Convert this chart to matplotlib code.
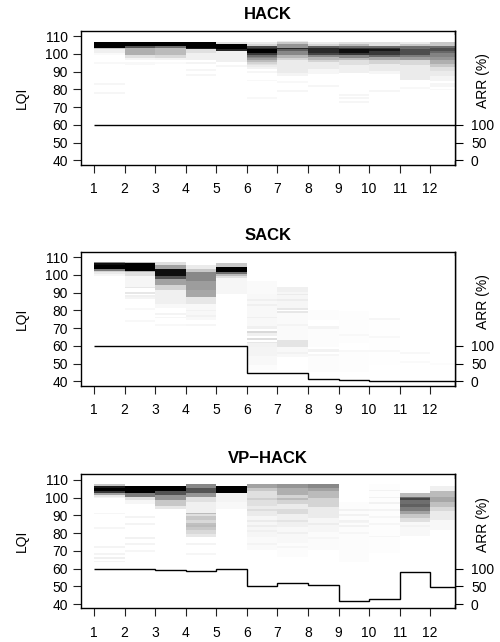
import numpy as np
import matplotlib
matplotlib.use('Agg')
import matplotlib.pyplot as plt
from matplotlib.colors import LinearSegmentedColormap, PowerNorm
from matplotlib.transforms import blended_transform_factory

plt.rcParams['font.family'] = ['Liberation Sans', 'DejaVu Sans']

# ── data: per-column LQI density bands (lo, hi, shade 0..1) ──────────────────
columns = list(range(1, 13))
lqi_bins = np.arange(40, 111)

hack_bands = [
    [(104, 106, 1.0), (103, 103, 0.25), (101, 102, 0.08), (100, 100, 0.03), (95, 95, 0.04), (83, 83, 0.05), (78, 78, 0.05)],
    [(105, 106, 1.0), (104, 104, 0.7), (100, 103, 0.35), (98, 99, 0.15), (97, 97, 0.06), (94, 95, 0.04)],
    [(105, 106, 1.0), (104, 104, 0.6), (100, 103, 0.3), (98, 99, 0.18), (97, 97, 0.07), (95, 95, 0.03)],
    [(104, 106, 1.0), (103, 103, 0.9), (101, 102, 0.15), (97, 100, 0.08), (95, 95, 0.06), (91, 91, 0.05), (88, 88, 0.05)],
    [(106, 106, 0.15), (103, 105, 1.0), (102, 102, 0.85), (96, 101, 0.08), (93, 93, 0.05)],
    [(106, 106, 0.1), (105, 105, 0.2), (104, 104, 0.75), (103, 103, 0.85), (101, 102, 1.0), (100, 100, 0.8),
     (99, 99, 0.6), (98, 98, 0.5), (97, 97, 0.42), (96, 96, 0.3), (95, 95, 0.2), (94, 94, 0.15),
     (93, 93, 0.1), (92, 92, 0.07), (90, 90, 0.05), (85, 85, 0.04), (75, 75, 0.04)],
    [(107, 107, 0.1), (106, 106, 0.25), (104, 105, 0.45), (103, 103, 0.85), (102, 102, 0.65), (100, 101, 0.5),
     (98, 99, 0.32), (97, 97, 0.2), (90, 96, 0.1), (88, 89, 0.06), (84, 84, 0.04), (79, 79, 0.05)],
    [(106, 106, 0.1), (105, 105, 0.2), (104, 104, 0.65), (101, 103, 0.85), (100, 100, 0.75), (99, 99, 0.5),
     (97, 98, 0.32), (96, 96, 0.2), (92, 95, 0.1), (89, 91, 0.05), (82, 82, 0.05)],
    [(106, 106, 0.15), (105, 105, 0.3), (104, 104, 0.6), (103, 103, 0.8), (101, 102, 0.95), (100, 100, 0.8),
     (98, 99, 0.5), (97, 97, 0.3), (94, 96, 0.15), (90, 93, 0.08), (77, 77, 0.05), (75, 75, 0.05), (73, 73, 0.05)],
    [(105, 106, 0.15), (104, 104, 0.6), (103, 103, 0.8), (102, 102, 0.92), (100, 101, 0.8), (99, 99, 0.62),
     (97, 98, 0.38), (95, 96, 0.2), (91, 94, 0.1), (89, 90, 0.05), (79, 79, 0.05)],
    [(106, 106, 0.1), (105, 105, 0.25), (103, 104, 0.6), (100, 102, 0.72), (99, 99, 0.55), (97, 98, 0.42),
     (94, 96, 0.18), (86, 93, 0.1), (81, 81, 0.04)],
    [(105, 106, 0.25), (104, 104, 0.6), (102, 103, 0.72), (101, 101, 0.62), (99, 100, 0.52), (97, 98, 0.45),
     (95, 96, 0.35), (93, 94, 0.25), (91, 92, 0.15), (88, 90, 0.1), (85, 87, 0.06), (82, 83, 0.05), (80, 80, 0.04)],
]

sack_bands = [
    [(107, 107, 0.5), (106, 106, 0.95), (104, 105, 1.0), (103, 103, 0.55), (102, 102, 0.2), (101, 101, 0.1), (100, 100, 0.05)],
    [(107, 107, 0.3), (103, 106, 1.0), (102, 102, 0.35), (100, 101, 0.15), (94, 99, 0.05), (93, 93, 0.12),
     (90, 90, 0.12), (88, 88, 0.08), (87, 87, 0.06), (81, 81, 0.04), (74, 74, 0.04)],
    [(106, 107, 0.15), (104, 105, 0.4), (100, 103, 0.95), (98, 99, 0.7), (95, 97, 0.4), (92, 94, 0.2),
     (84, 91, 0.08), (82, 83, 0.04), (78, 78, 0.06), (76, 76, 0.05), (72, 72, 0.04)],
    [(104, 105, 0.1), (102, 103, 0.25), (97, 101, 0.5), (92, 96, 0.42), (88, 91, 0.38), (84, 87, 0.12),
     (75, 83, 0.04), (80, 80, 0.07), (77, 77, 0.07), (72, 72, 0.05)],
    [(105, 106, 0.25), (102, 104, 1.0), (101, 101, 0.6), (100, 100, 0.3), (99, 99, 0.15), (90, 98, 0.05)],
    [(90, 96, 0.03), (80, 89, 0.04), (86, 86, 0.08), (83, 83, 0.08), (72, 79, 0.04), (76, 76, 0.08),
     (70, 71, 0.08), (68, 68, 0.18), (66, 67, 0.08), (64, 64, 0.16), (62, 62, 0.12), (60, 61, 0.07),
     (55, 59, 0.06), (50, 54, 0.04), (47, 49, 0.02)],
    [(91, 93, 0.08), (82, 90, 0.05), (89, 89, 0.1), (86, 86, 0.09), (81, 81, 0.12), (79, 79, 0.12),
     (64, 78, 0.03), (72, 72, 0.06), (60, 63, 0.13), (54, 59, 0.04), (56, 56, 0.07)],
    [(75, 80, 0.02), (70, 71, 0.06), (60, 69, 0.02), (57, 58, 0.07), (55, 55, 0.05), (46, 54, 0.02)],
    [(62, 79, 0.015), (66, 66, 0.04), (57, 57, 0.04), (46, 56, 0.015)],
    [(50, 74, 0.012), (75, 75, 0.05), (65, 65, 0.04), (57, 57, 0.04)],
    [(56, 56, 0.04), (51, 51, 0.03)],
    [(50, 50, 0.02)],
]

vphack_bands = [
    [(107, 107, 0.25), (106, 106, 0.9), (104, 105, 1.0), (103, 103, 0.8), (102, 102, 0.4), (101, 101, 0.12),
     (100, 100, 0.06), (91, 91, 0.05), (83, 83, 0.05), (72, 72, 0.06), (68, 68, 0.06), (66, 66, 0.08), (64, 64, 0.06)],
    [(103, 106, 1.0), (101, 102, 0.55), (99, 100, 0.15), (97, 98, 0.05), (89, 89, 0.06), (85, 85, 0.06),
     (77, 77, 0.07), (74, 74, 0.06), (70, 70, 0.05)],
    [(104, 106, 1.0), (102, 103, 0.7), (99, 101, 0.45), (96, 98, 0.25), (94, 95, 0.12)],
    [(106, 107, 0.5), (103, 105, 0.7), (101, 102, 0.45), (98, 100, 0.15), (92, 97, 0.08), (91, 91, 0.3),
     (90, 90, 0.15), (88, 89, 0.25), (86, 87, 0.18), (85, 85, 0.28), (84, 84, 0.3), (82, 83, 0.25), (80, 81, 0.18),
     (78, 79, 0.12), (74, 74, 0.06), (68, 68, 0.05)],
    [(103, 106, 1.0), (98, 102, 0.06), (94, 97, 0.04)],
    [(106, 107, 0.4), (104, 105, 0.25), (96, 103, 0.15), (99, 99, 0.22), (90, 95, 0.1), (93, 93, 0.16),
     (78, 89, 0.05), (87, 87, 0.1), (84, 84, 0.09), (81, 81, 0.08), (71, 77, 0.03), (74, 74, 0.06)],
    [(106, 107, 0.45), (102, 105, 0.35), (97, 101, 0.2), (99, 99, 0.3), (94, 96, 0.1), (91, 93, 0.17),
     (84, 90, 0.08), (87, 87, 0.13), (75, 83, 0.04), (80, 80, 0.08), (67, 74, 0.02), (72, 72, 0.05)],
    [(106, 107, 0.5), (104, 105, 0.4), (100, 103, 0.3), (95, 99, 0.2), (89, 94, 0.1), (81, 88, 0.05),
     (85, 85, 0.09), (71, 80, 0.025), (77, 77, 0.05)],
    [(64, 97, 0.02), (93, 93, 0.07), (90, 90, 0.07), (87, 87, 0.07), (86, 86, 0.06), (84, 84, 0.07), (80, 80, 0.05)],
    [(69, 107, 0.015), (104, 104, 0.07), (100, 100, 0.07), (97, 97, 0.07), (93, 93, 0.06), (89, 89, 0.05),
     (85, 85, 0.05), (78, 78, 0.05)],
    [(101, 102, 0.3), (100, 100, 0.6), (99, 99, 0.75), (97, 98, 0.6), (95, 96, 0.65), (93, 94, 0.55),
     (91, 92, 0.4), (89, 90, 0.25), (87, 88, 0.15), (79, 86, 0.04), (84, 84, 0.07)],
    [(104, 106, 0.08), (101, 103, 0.3), (98, 100, 0.38), (95, 97, 0.28), (93, 94, 0.18), (88, 92, 0.1), (82, 87, 0.04)],
]

# ARR (%) per column
hack_arr = [100, 100, 100, 100, 100, 100, 100, 100, 100, 100, 100, 100]
sack_arr = [100, 100, 100, 100, 100, 24, 24, 6, 3, 2, 1.5, 0.5]
vphack_arr = [98, 97.5, 97, 94, 100, 51.5, 58, 54.5, 8.5, 15, 89, 48]

titles = ['HACK', 'SACK', 'VP\u2212HACK']
panels = [(hack_bands, hack_arr), (sack_bands, sack_arr), (vphack_bands, vphack_arr)]


def arr_to_lqi(a):
    return 40 + np.asarray(a) * 0.2


def lqi_to_arr(l):
    return (np.asarray(l) - 40) / 0.2


cmap = LinearSegmentedColormap.from_list('wb', ['white', 'black'])

fig = plt.figure(figsize=(5, 6.42), dpi=100)
bottoms = [0.7435, 0.3992, 0.0525]
fs = 10

for (bands, arr), title, b in zip(panels, titles, bottoms):
    ax = fig.add_axes([0.1614, b, 0.7486, 0.2087])

    grid = np.zeros((len(lqi_bins), len(columns)))
    for ci, col in enumerate(bands):
        for lo, hi, s in col:
            grid[lo - 40:hi - 40 + 1, ci] = s
    xedges = np.arange(1, 14)
    yedges = np.arange(39.5, 111.5, 1)
    ax.pcolormesh(xedges, yedges, grid, cmap=cmap, norm=PowerNorm(1.1, vmin=0, vmax=1), shading='flat')

    ax.stairs(arr_to_lqi(arr), xedges, baseline=None, color='black', lw=1.0)

    ax.set_xlim(0.565, 12.81)
    ax.set_ylim(37.6, 113.1)
    ax.set_xticks(columns)
    ax.set_yticks(np.arange(40, 111, 10))
    ax.tick_params(axis='both', labelsize=fs, length=5.5, width=0.8, color='#222222')
    ax.tick_params(axis='x', pad=7)
    ax.tick_params(axis='y', pad=3.5)
    for sp in ax.spines.values():
        sp.set_linewidth(1.0)

    sec = ax.secondary_yaxis('right', functions=(lqi_to_arr, arr_to_lqi))
    sec.set_yticks([0, 50, 100])
    sec.tick_params(labelsize=fs, length=5.5, width=0.8, pad=6)
    sec.spines['right'].set_linewidth(1.0)

    ax.text(0.5, 1.12, title, transform=ax.transAxes, ha='center', va='center',
            fontsize=12, fontweight='bold')
    ax.text(-0.157, 0.5, 'LQI', transform=ax.transAxes, rotation=90,
            ha='center', va='center', fontsize=fs)
    tr = blended_transform_factory(ax.transAxes, ax.transData)
    ax.text(1.074, 85, 'ARR (%)', transform=tr, rotation=90,
            ha='center', va='center', fontsize=fs)

fig.savefig('out.png', dpi=100)
